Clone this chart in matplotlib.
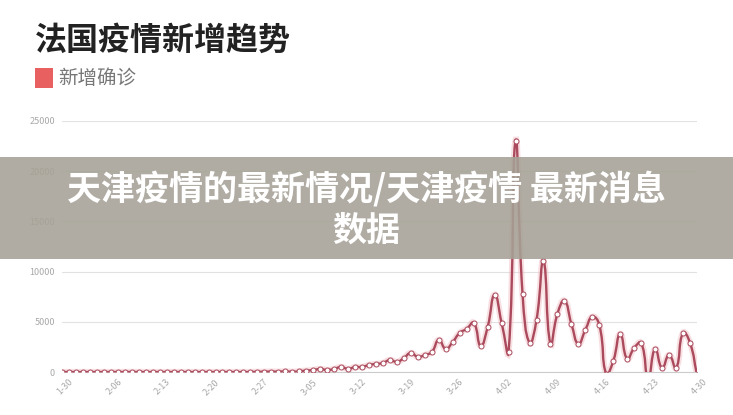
import matplotlib

matplotlib.use("Agg")

import matplotlib.pyplot as plt
import matplotlib.transforms as mtransforms
import numpy as np
import pandas as pd
from matplotlib.patches import PathPatch, Rectangle
from matplotlib.path import Path

plt.rcParams["font.family"] = ["Noto Sans CJK SC", "DejaVu Sans"]

title = "法国疫情新增趋势"
series_name = "新增确诊"
banner_text = "天津疫情的最新情况/天津疫情 最新消息\n数据"

dates = pd.date_range("2020-01-30", "2020-04-30", freq="D")
categories = [f"{d.month}-{d.day:02d}" for d in dates]

# daily new confirmed cases
new_cases = [
    0, 0, 0, 0, 0, 0, 0, 0, 1, 0, 5, 1, 0, 0, 0, 0, 1, 0, 0, 0, 0, 0, 0, 0, 0, 0, 0,
    2, 20, 20, 43, 30, 61, 21, 73, 138, 190,
    300, 200, 300, 500, 300, 500, 500, 700, 800, 900,
    1200, 1000, 1400, 1900, 1500, 1700, 2000, 3200, 2300, 3000,
    3900, 4300, 4900, 2600, 4500, 7700, 4900, 2000, 23040, 7800,
    2900, 5200, 11050, 2800, 5800, 7100, 4800, 2800, 4200, 5500,
    4700, -200, 1100, 3800, 1300, 2400, 2900, -600, 2300, 400,
    1700, 400, 3900, 2900, -300,
]
y_ticks = [0, 5000, 10000, 15000, 20000, 25000]

line_color = "#aa4a5c"
legend_color = "#e8605f"


def smooth_path(ax, xs, ys, smooth=0.5):
    # echarts-style bezier smoothing, computed in pixel space
    pts = ax.transData.transform(np.column_stack([xs, ys]))
    n = len(pts)
    cps_before, cps_after = [], []
    for i in range(n):
        cur = pts[i]
        prev = pts[i - 1] if i > 0 else cur
        nxt = pts[i + 1] if i < n - 1 else cur
        v = nxt - prev
        d0 = np.hypot(*(cur - prev))
        d1 = np.hypot(*(nxt - cur))
        ratio = d1 / (d0 + d1) if d0 + d1 > 0 else 0.5
        cps_before.append(cur - v * smooth * (1 - ratio))
        cps_after.append(cur + v * smooth * ratio)
    verts = [pts[0]]
    codes = [Path.MOVETO]
    for i in range(n - 1):
        verts += [cps_after[i], cps_before[i + 1], pts[i + 1]]
        codes += [Path.CURVE4] * 3
    inv = ax.transData.inverted()
    return Path(inv.transform(np.array(verts)), codes)


fig = plt.figure(figsize=(7.33, 4.15), dpi=100)
ax = fig.add_axes([62 / 733, 43 / 415, 635 / 733, 251 / 415])
x = np.arange(len(categories))
ax.set_xlim(0, len(categories) - 1)
ax.set_ylim(0, 25000)

path = smooth_path(ax, x, new_cases)
ax.add_patch(PathPatch(path, facecolor="none", edgecolor="#f0b8c0", linewidth=4.5, alpha=0.45, zorder=2))
ax.add_patch(PathPatch(path, facecolor="none", edgecolor=line_color, linewidth=1.7, zorder=3))
ax.plot(x, new_cases, "o", markersize=3.6, markerfacecolor="white",
        markeredgecolor=line_color, markeredgewidth=0.7, zorder=4)

ax.set_yticks(y_ticks)
ax.set_yticklabels([str(v) for v in y_ticks])
ax.yaxis.grid(True, color="#e2e2e2", linewidth=0.8)
ax.set_axisbelow(True)
for side in ["top", "right", "left"]:
    ax.spines[side].set_visible(False)
ax.spines["bottom"].set_color("#cccccc")
ax.spines["bottom"].set_linewidth(0.8)
ax.tick_params(axis="y", length=0, pad=5, labelsize=6.5, labelcolor="#a8a8a8")

tick_idx = list(range(0, len(categories), 7))
ax.set_xticks(tick_idx)
ax.set_xticklabels([categories[i] for i in tick_idx], rotation=45, ha="center", va="top")
ax.tick_params(axis="x", length=0, pad=4, labelsize=6.5, labelcolor="#a8a8a8")
shift = mtransforms.ScaledTranslation(3 / 100, 0, fig.dpi_scale_trans)
for lbl in ax.get_xticklabels():
    lbl.set_transform(lbl.get_transform() + shift)

fig.text(35 / 733, 1 - 41 / 415, title, fontsize=23, fontweight="black",
         color="#222222", ha="left", va="center")
fig.add_artist(Rectangle((35 / 733, 1 - 88 / 415), 18 / 733, 20 / 415,
                         transform=fig.transFigure, facecolor=legend_color, edgecolor="none"))
fig.text(58 / 733, 1 - 78 / 415, series_name, fontsize=14, color="#777777",
         ha="left", va="center")

fig.add_artist(Rectangle((0, 1 - 259 / 415), 1, 102 / 415, transform=fig.transFigure,
                         facecolor="#a5a196", edgecolor="none", alpha=0.88, zorder=5))
fig.text(0.5, 1 - 209 / 415, banner_text, fontsize=24.5, fontweight="black", color="white",
         ha="center", va="center", multialignment="center", linespacing=1.22, zorder=6)

fig.savefig("out.png", dpi=100)
plt.close(fig)
